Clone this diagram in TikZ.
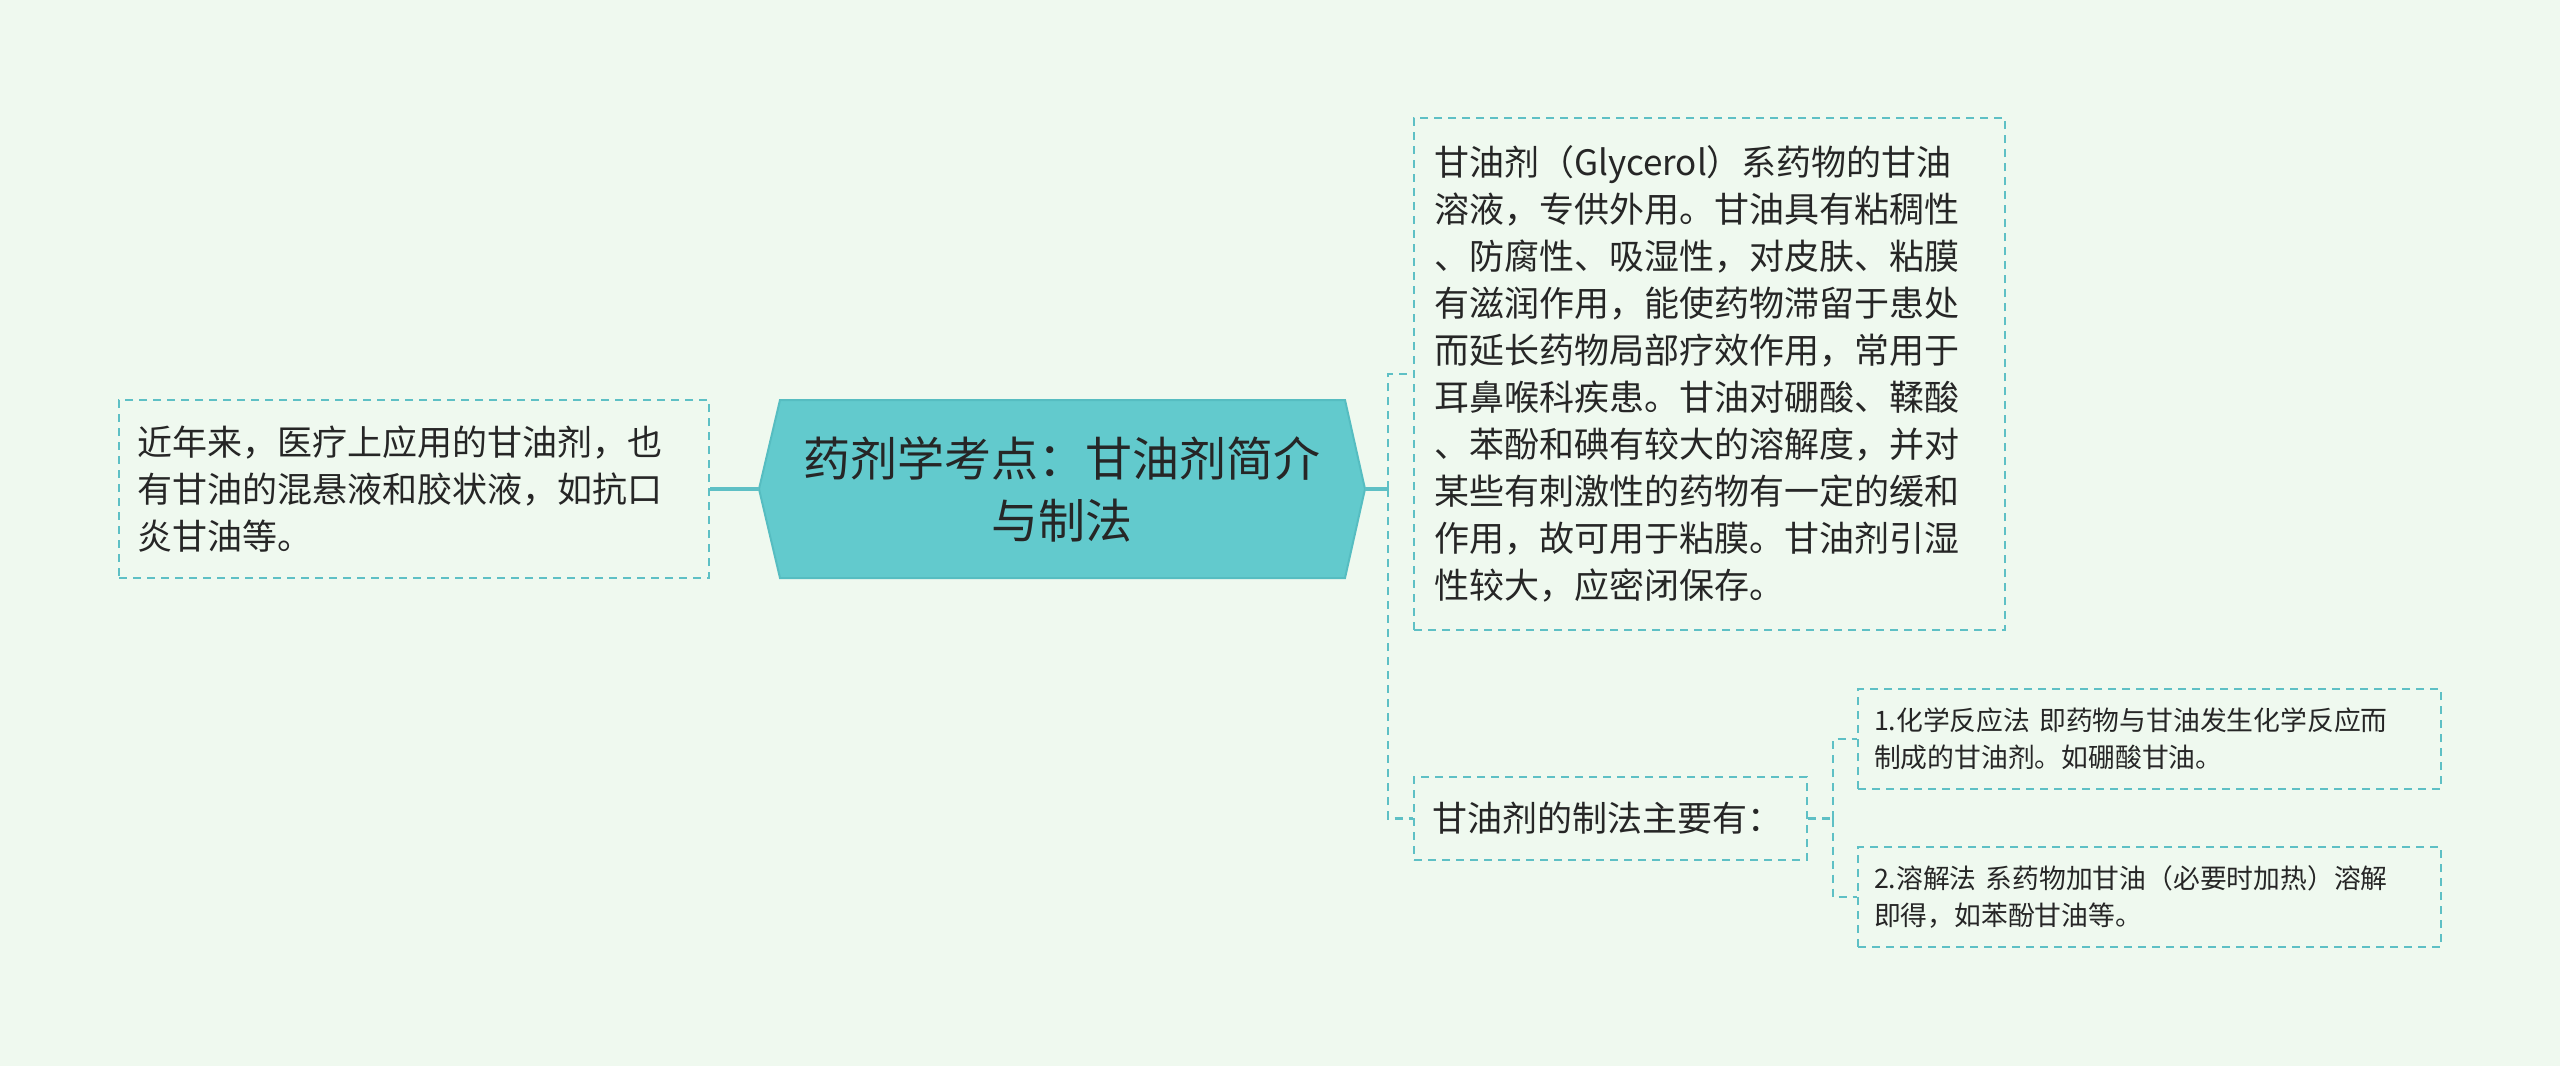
\documentclass[tikz,border=0pt]{standalone}
\usepackage{fontspec}
\setmainfont{Noto Sans CJK SC}
\definecolor{bg}{HTML}{EFF9EF}
\definecolor{tealline}{HTML}{5EC0C5}
\definecolor{hexfill}{HTML}{62CACD}
\definecolor{hexedge}{HTML}{56BDC1}
\definecolor{txt}{HTML}{262626}
\tikzset{
  box/.style={draw=tealline, line width=1.3pt, dash pattern=on 4pt off 3pt, rectangle,
    inner ysep=0pt, align=left, text=txt, anchor=center},
  bigtext/.style={font=\fontsize{17.5}{23.5}\selectfont},
  smalltext/.style={font=\fontsize{13.4}{18.5}\selectfont},
  conn/.style={draw=tealline, line width=1.3pt, dash pattern=on 4pt off 3pt},
  solidconn/.style={draw=tealline, line width=1.6pt},
}
\begin{document}
\begin{tikzpicture}[x=0.5pt,y=-0.5pt]
\fill[bg] (0,0) rectangle (2560,1066);
\useasboundingbox (0,0) rectangle (2560,1066);

% central hexagon
\coordinate (cl) at (759,489);
\coordinate (cr) at (1365,489);
\filldraw[fill=hexfill, draw=hexedge, line width=1pt] (cl) -- (780,400) -- (1345,400) -- (cr) -- (1345,578) -- (780,578) -- cycle;
\node[font=\fontsize{23.5}{31}\selectfont, text=txt, align=center] (cen) at (1062,489)
  {药剂学考点：甘油剂简介\\与制法};

% left box
\node[box, bigtext, text width=277pt, inner xsep=9pt, minimum height=89pt] (lft) at (414,489)
  {近年来，医疗上应用的甘油剂，也\\有甘油的混悬液和胶状液，如抗口\\炎甘油等。};

% top right box
\node[box, bigtext, text width=275.5pt, inner xsep=10pt, minimum height=256pt] (ntop) at (1709.5,374)
  {甘油剂（Glycerol）系药物的甘油\\溶液，专供外用。甘油具有粘稠性\\、防腐性、吸湿性，对皮肤、粘膜\\有滋润作用，能使药物滞留于患处\\而延长药物局部疗效作用，常用于\\耳鼻喉科疾患。甘油对硼酸、鞣酸\\、苯酚和碘有较大的溶解度，并对\\某些有刺激性的药物有一定的缓和\\作用，故可用于粘膜。甘油剂引湿\\性较大，应密闭保存。};

% middle box
\node[box, bigtext, text width=178.5pt, inner xsep=9pt, minimum height=41.5pt] (nmid) at (1610.5,818.5)
  {甘油剂的制法主要有：};

% sub boxes
\node[box, smalltext, text width=275.5pt, inner xsep=8pt, minimum height=50pt] (s1) at (2149.5,739)
  {1.化学反应法 即药物与甘油发生化学反应而\\制成的甘油剂。如硼酸甘油。};
\node[box, smalltext, text width=275.5pt, inner xsep=8pt, minimum height=50pt] (s2) at (2149.5,897)
  {2.溶解法 系药物加甘油（必要时加热）溶解\\即得，如苯酚甘油等。};

% connectors
\coordinate (jr) at (1388,489);
\coordinate (js) at (1833,818.5);
\draw[solidconn] (cl) -- (lft.east);
\draw[solidconn] (cr) -- (jr);
\draw[conn] (jr) |- (ntop.west);
\draw[conn] (jr) |- (nmid.west);
\draw[conn] (nmid.east) -- (js);
\draw[conn] (js) |- (s1.west);
\draw[conn] (js) |- (s2.west);
\end{tikzpicture}
\end{document}
